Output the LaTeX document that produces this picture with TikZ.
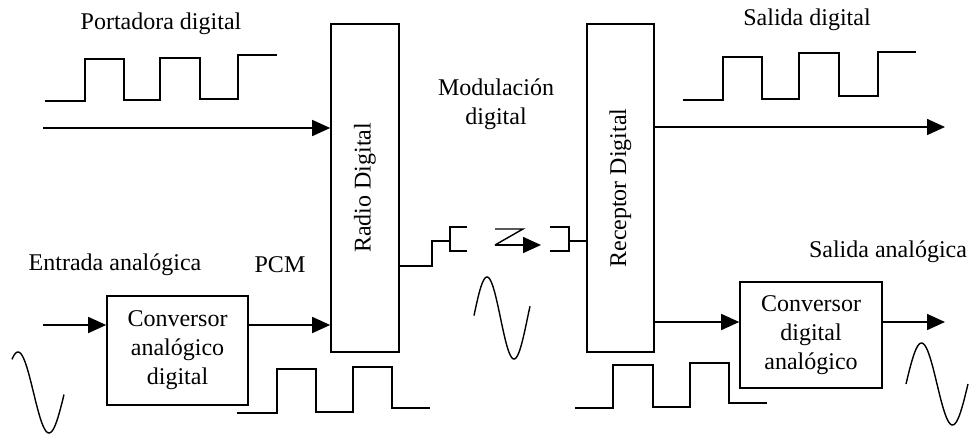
\documentclass[tikz,border=0pt]{standalone}
\usepackage{fontspec}
\setmainfont{Liberation Serif}
\usetikzlibrary{arrows.meta, positioning}

\begin{document}
\begin{tikzpicture}[x=0.5pt, y=-0.5pt,
  blk/.style={rectangle, draw=black, line width=0.8pt, align=center,
              font=\fontsize{12}{14.5}\selectfont, inner sep=2pt},
  arr/.style={-{Triangle[length=9pt, width=8pt]}, line width=0.8pt},
  sig/.style={line width=0.7pt},
  lbl/.style={font=\fontsize{12}{14.5}\selectfont, align=center}
]
\useasboundingbox (0,0) rectangle (971,435);
% bloques
\node[blk, rotate=90, minimum width=164pt, minimum height=34pt] (radio) at (365,188) {Radio Digital};
\node[blk, rotate=90, minimum width=164pt, minimum height=33.5pt] (rx) at (620.5,188) {Receptor Digital};
\node[blk, minimum width=70.5pt, minimum height=54.5pt] (adc) at (177.5,350.5) {Conversor\\analógico\\digital};
\node[blk, minimum width=71pt, minimum height=53pt] (dac) at (811,335) {Conversor\\digital\\analógico};
% textos
\node[lbl] (port) at (161,24) {Portadora digital};
\node[lbl] (sdig) at (807,20) {Salida digital};
\node[lbl] (mod)  at (496,104) {Modulación\\digital};
\node[lbl] (ent)  at (115,265) {Entrada analógica};
\node[lbl] (pcm)  at (280,265) {PCM};
\node[lbl] (sana) at (888,252) {Salida analógica};
% extremos libres
\coordinate (cin)  at (43,128);
\coordinate (ain)  at (43,325);
\coordinate (dout) at (945,127);
\coordinate (aout) at (945,322);
\coordinate (txa)  at (450,241);
\coordinate (rxa)  at (569,241);
% conexiones
\draw[arr] (cin) -- (cin -| radio.north);
\draw[arr] (ain) -- (ain -| adc.west);
\draw[arr] (adc.east |- ain) -- (ain -| radio.north);
\draw[arr] (rx.south |- dout) -- (dout);
\draw[arr] (rx.south |- aout) -- (aout -| dac.west);
\draw[arr] (dac.east |- aout) -- (aout);
\draw[sig] (radio.south |- 0,266) -- (432,266) -- (432,241) -- (txa);
\draw[sig] (467,227) -- (450,227) -- (450,251) -- (467,251);
\draw[sig] (550,227) -- (569,227) -- (569,251) -- (550,251);
\draw[sig] (rxa) -- (rxa -| rx.north);
\draw[sig] (495,229) -- (523,229) -- (495,245);
\draw[arr] (495,245) -- (541,245);
% senales cuadradas
\draw[sig] (45,101) -- (85,101) -- (85,59) -- (124,59) -- (124,100) -- (160,100) -- (160,58)
  -- (200,58) -- (200,99) -- (238,99) -- (238,55) -- (277,55);
\draw[sig] (683,100) -- (723,100) -- (723,57) -- (762,57) -- (762,99) -- (799,99) -- (799,53)
  -- (839,53) -- (839,96) -- (878,96) -- (878,52) -- (916,52);
\draw[sig] (237,413) -- (277,413) -- (277,369) -- (316,369) -- (316,412) -- (353,412) -- (353,367)
  -- (392,367) -- (392,408) -- (430,408);
\draw[sig] (575,408) -- (613,408) -- (613,365) -- (653,365) -- (653,407) -- (690,407) -- (690,363)
  -- (729,363) -- (729,403) -- (767,403);
% senales analogicas
\draw[sig] plot[domain=12:64, samples=50] (\x, {392.5-40.5*sin((\x-2.5)*180/31)});
\draw[sig] plot[domain=474:530, samples=50] (\x, {318-41*sin((\x-473.5)*180/27)});
\draw[sig] plot[domain=906:968, samples=50] (\x, {384-41*sin((\x-906)*180/31)});
\end{tikzpicture}
\end{document}
